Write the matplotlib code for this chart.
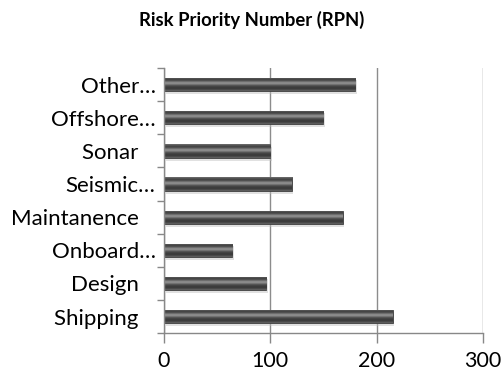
import matplotlib
matplotlib.use('Agg')
import matplotlib.pyplot as plt
from matplotlib.ticker import FixedLocator
import numpy as np

# categories listed bottom to top (Excel keeps a trailing gap after the short names)
pad = '\u00a0' * 3
categories = ['Shipping' + pad, 'Design' + pad, 'Onboard\u2026', 'Maintanence' + pad,
              'Seismic\u2026', 'Sonar' + pad, 'Offshore\u2026', 'Other\u2026']
rpn = [215, 96, 64, 168, 120, 100, 150, 180]
xticks = [0, 100, 200, 300]

plt.rcParams['font.family'] = ['Lato', 'DejaVu Sans']

fig = plt.figure(figsize=(5.03, 3.76), dpi=100)
ax = fig.add_axes([0.326, 0.114, 0.634, 0.705])

ypos = np.arange(len(categories))

# soft drop shadow under each bar
shadow = ax.barh(ypos - 0.08, rpn, height=0.42, left=1.5, color='#bdbdbd',
                 alpha=0.45, zorder=2, linewidth=0)
bars = ax.barh(ypos, rpn, height=0.40, color='#555555', zorder=3,
               edgecolor='#404040', linewidth=0.6)

# vertical shading to fake the bevelled look
shade = np.array([0.42, 0.30, 0.25, 0.33, 0.48, 0.58, 0.52, 0.36, 0.28,
                  0.24, 0.22, 0.27, 0.38])[:, None]
for b in bars:
    x0, y0 = b.get_x(), b.get_y()
    im = ax.imshow(shade, cmap='gray', vmin=0, vmax=1, aspect='auto',
                   extent=(x0, x0 + b.get_width(), y0, y0 + b.get_height()),
                   origin='upper', zorder=4, interpolation='bicubic')
    im.set_clip_path(b)

ax.set_xlim(0, 300)
ax.set_ylim(-0.5, len(categories) - 0.5)

ax.set_xticks(xticks)
ax.set_xticklabels([str(t) for t in xticks], fontsize=15.5)
ax.tick_params(axis='x', length=7, width=1, color='#888888', pad=6)

ax.set_yticks(ypos)
ax.set_yticklabels(categories, fontsize=16)
ax.tick_params(axis='y', which='major', length=0, pad=6)
ax.yaxis.set_minor_locator(FixedLocator(np.arange(-0.5, len(categories), 1.0)))
ax.tick_params(axis='y', which='minor', length=5, width=1, color='#888888')

ax.grid(axis='x', color='#8c8c8c', linewidth=1)
ax.set_axisbelow(True)
for s in ['top', 'right']:
    ax.spines[s].set_visible(False)
for s in ['left', 'bottom']:
    ax.spines[s].set_color('#888888')
    ax.spines[s].set_linewidth(1)
    ax.spines[s].set_zorder(5)

fig.text(0.5, 0.931, 'Risk Priority Number (RPN)', ha='center', va='baseline',
         fontsize=13.3, fontweight='bold')

fig.savefig('out.png', dpi=100)
